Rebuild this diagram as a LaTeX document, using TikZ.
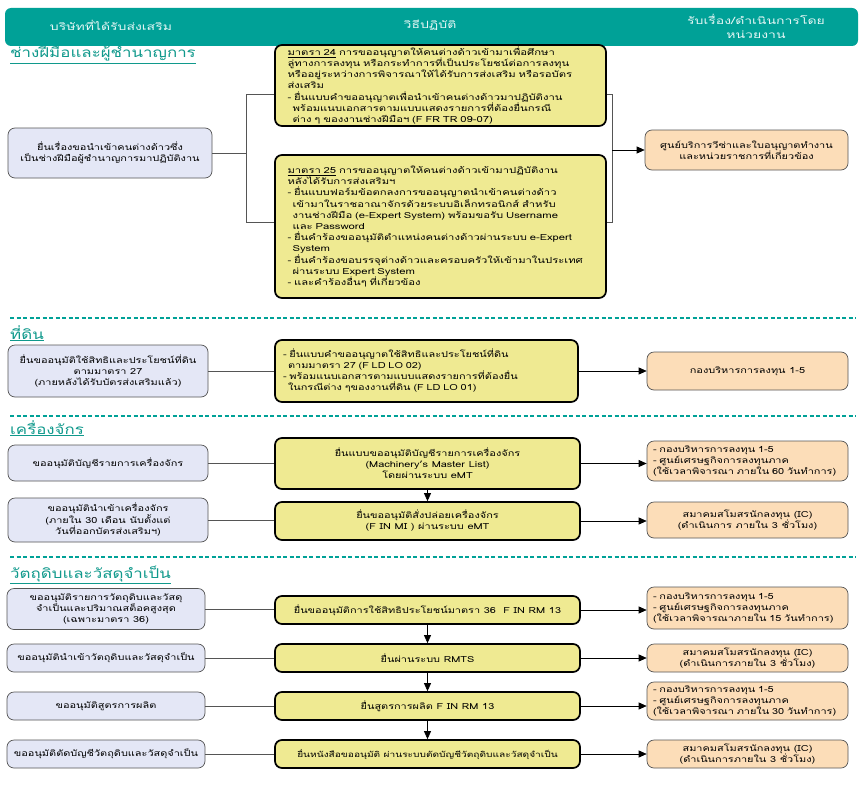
\documentclass[tikz,border=0pt]{standalone}
\usepackage{fontspec}
\setmainfont{Loma}[Script=Thai]
\newfontfamily\wide{Loma}[Script=Thai,FakeStretch=1.3]
\newfontfamily\wider{Loma}[Script=Thai,FakeStretch=1.34]
\newfontfamily\ttlfont{Loma}[Script=Thai,FakeStretch=1.25]
\newfontfamily\hdrfont{Loma}[Script=Thai,FakeStretch=1.4]
\usetikzlibrary{arrows.meta,calc}
\definecolor{hdr}{HTML}{00A197}
\definecolor{ttl}{HTML}{10998C}
\definecolor{lav}{HTML}{E4E7F6}
\definecolor{yel}{HTML}{EFEA92}
\definecolor{peach}{HTML}{FCDDB8}
\definecolor{edge}{HTML}{555555}
\begin{document}
\begin{tikzpicture}[x=1pt,y=-1pt,
  base/.style={rounded corners=7pt, font=\wide\fontsize{8.4}{11}\selectfont, inner xsep=6pt, inner ysep=1pt},
  lbox/.style={base, draw=edge, fill=lav, align=center, line width=0.7pt},
  ybox/.style={base, draw=black, fill=yel, line width=1.7pt},
  ybig/.style={ybox, font=\wider\fontsize{8.4}{11.2}\selectfont, inner xsep=0pt, text width=306pt, align=left},
  obox/.style={base, draw=edge, fill=peach, line width=0.7pt},
  conn/.style={draw=edge, line width=0.7pt},
  arr/.style={draw=black, line width=0.7pt, -{Triangle[length=8pt,width=7pt]}},
  sect/.style={anchor=base west, text=ttl, font=\ttlfont\fontsize{13.5}{16}\selectfont, inner sep=0pt},
  dline/.style={draw=hdr, line width=1.1pt, dash pattern=on 4pt off 2.5pt},
  htext/.style={text=white!90!hdr, font=\hdrfont\fontsize{10}{14}\selectfont, align=center}
]
\useasboundingbox (0,0) rectangle (864,784);
\fill[white] (0,0) rectangle (864,784);
% header
\fill[hdr, rounded corners=6pt] (5,8) rectangle (858,46);
\node[htext] (h1) at (111,25) {บริษัทที่ได้รับส่งเสริม};
\node[htext] (h2) at (430,25) {วิธีปฏิบัติ};
\node[htext] (h3) at (756,26) {รับเรื่อง/ดำเนินการโดย\\หน่วยงาน};

% section titles
\node[sect] (s1) at (10,58) {\underline{ช่างฝีมือและผู้ชำนาญการ}};
\node[sect] (s2) at (10,339) {\underline{ที่ดิน}};
\node[sect] (s3) at (10,434) {\underline{เครื่องจักร}};
\node[sect] (s4) at (10,578) {\underline{วัตถุดิบและวัสดุจำเป็น}};

% dashed separators
\coordinate (d1a) at (10,318); \coordinate (d1b) at (856,318);
\coordinate (d2a) at (10,416); \coordinate (d2b) at (856,416);
\coordinate (d3a) at (10,557); \coordinate (d3b) at (856,557);
\draw[dline] (d1a) -- (d1b);
\draw[dline] (d2a) -- (d2b);
\draw[dline] (d3a) -- (d3b);

% ===== Section 1 =====
\node[lbox, minimum width=204pt, minimum height=50pt] (L1) at (110,153)
 {ยื่นเรื่องขอนำเข้าคนต่างด้าวซึ่ง\\เป็นช่างฝีมือผู้ชำนาญการมาปฏิบัติงาน};
\node[ybig, minimum width=331pt, minimum height=81pt] (Y1a) at (440.5,85.5)
 {\underline{มาตรา 24} การขออนุญาตให้คนต่างด้าวเข้ามาเพื่อศึกษา\\
 ลู่ทางการลงทุน หรือกระทำการที่เป็นประโยชน์ต่อการลงทุน\\
 หรืออยู่ระหว่างการพิจารณาให้ได้รับการส่งเสริม หรือรอบัตร\\
 ส่งเสริม\\
 - ยื่นแบบคำขออนุญาตเพื่อนำเข้าคนต่างด้าวมาปฏิบัติงาน\\
 \hspace*{0.6em}พร้อมแนบเอกสารตามแบบแสดงรายการที่ต้องยื่นกรณี\\
 \hspace*{0.6em}ต่าง ๆ ของงานช่างฝีมือฯ (F FR TR 09-07)};
\node[ybig, minimum width=331pt, minimum height=143pt] (Y1b) at (440.5,226.5)
 {\underline{มาตรา 25} การขออนุญาตให้คนต่างด้าวเข้ามาปฏิบัติงาน\\
 หลังได้รับการส่งเสริมฯ\\
 - ยื่นแบบฟอร์มข้อตกลงการขออนุญาตนำเข้าคนต่างด้าว\\
 \hspace*{0.6em}เข้ามาในราชอาณาจักรด้วยระบบอิเล็กทรอนิกส์ สำหรับ\\
 \hspace*{0.6em}งานช่างฝีมือ (e-Expert System) พร้อมขอรับ Username\\
 \hspace*{0.6em}และ Password\\
 - ยื่นคำร้องขออนุมัติตำแหน่งคนต่างด้าวผ่านระบบ e-Expert\\
 \hspace*{0.6em}System\\
 - ยื่นคำร้องขอบรรจุต่างด้าวและครอบครัวให้เข้ามาในประเทศ\\
 \hspace*{0.6em}ผ่านระบบ Expert System\\
 - และคำร้องอื่นๆ ที่เกี่ยวข้อง};
\node[obox, minimum width=203pt, minimum height=40pt, align=center] (O1) at (746.5,150)
 {ศูนย์บริการวีซ่าและใบอนุญาตทำงาน\\และหน่วยราชการที่เกี่ยวข้อง};
\coordinate (j1) at (246,153);
\coordinate (j1t) at (246,94);
\coordinate (j1b) at (246,222);
\coordinate (k1t) at (612,94);
\coordinate (k1b) at (612,222);
\coordinate (k1m) at (612,150);
\draw[conn] (L1.east |- j1) -- (j1);
\draw[conn] (j1t -| Y1a.west) -- (j1t) -- (j1b) -- (j1b -| Y1b.west);
\draw[conn] (k1t -| Y1a.east) -- (k1t) -- (k1b) -- (k1b -| Y1b.east);
\draw[arr] (k1m) -- (O1.west);

% ===== Section 2 =====
\node[lbox, minimum width=200pt, minimum height=52pt] (L2) at (108,371)
 {ยื่นขออนุมัติใช้สิทธิและประโยชน์ที่ดิน\\ตามมาตรา 27\\(ภายหลังได้รับบัตรส่งเสริมแล้ว)};
\node[ybox, minimum width=303pt, minimum height=62pt, text width=287pt, align=left, inner xsep=8pt] (Y2) at (426.5,371)
 {- ยื่นแบบคำขออนุญาตใช้สิทธิและประโยชน์ที่ดิน\\
 \hspace*{0.6em}ตามมาตรา 27 (F LD LO 02)\\
 - พร้อมแนบเอกสารตามแบบแสดงรายการที่ต้องยื่น\\
 \hspace*{0.6em}ในกรณีต่าง ๆของงานที่ดิน (F LD LO 01)};
\node[obox, minimum width=201pt, minimum height=38pt, align=center] (O2) at (747.5,371)
 {กองบริหารการลงทุน 1-5};
\draw[conn] (L2.east) -- (L2.east -| Y2.west);
\draw[arr] (Y2.east) -- (Y2.east -| O2.west);

% ===== Section 3 =====
\node[lbox, minimum width=200pt, minimum height=36pt] (L3a) at (108,463)
 {ขออนุมัติบัญชีรายการเครื่องจักร};
\node[lbox, minimum width=200pt, minimum height=44pt] (L3b) at (108,520)
 {ขออนุมัตินำเข้าเครื่องจักร\\(ภายใน 30 เดือน นับตั้งแต่\\วันที่ออกบัตรส่งเสริมฯ)};
\node[ybox, minimum width=305pt, minimum height=51pt, align=center] (Y3a) at (427.5,463.5)
 {ยื่นแบบขออนุมัติบัญชีรายการเครื่องจักร\\(Machinery’s Master List)\\โดยผ่านระบบ eMT};
\node[ybox, minimum width=305pt, minimum height=38pt, align=center] (Y3b) at (427.5,521)
 {ยื่นขออนุมัติสั่งปล่อยเครื่องจักร\\(F IN MI ) ผ่านระบบ eMT};
\node[obox, minimum width=201pt, minimum height=40pt, text width=189pt, align=left] (O3a) at (747.5,461)
 {- กองบริหารการลงทุน 1-5\\- ศูนย์เศรษฐกิจการลงทุนภาค\\(ใช้เวลาพิจารณา ภายใน 60 วันทำการ)};
\node[obox, minimum width=201pt, minimum height=36pt, align=center] (O3b) at (747.5,520)
 {สมาคมสโมสรนักลงทุน (IC)\\(ดำเนินการ ภายใน 3 ชั่วโมง)};
\draw[conn] (L3a.east) -- (L3a.east -| Y3a.west);
\draw[conn] (L3b.east) -- (L3b.east -| Y3b.west);
\draw[arr] (Y3a.south) -- (Y3b.north);
\draw[arr] (Y3a.east) -- (Y3a.east -| O3a.west);
\draw[arr] (Y3b.east) -- (Y3b.east -| O3b.west);

% ===== Section 4 =====
\node[lbox, minimum width=198pt, minimum height=41pt] (L4a) at (106,609)
 {ขออนุมัติรายการวัตถุดิบและวัสดุ\\จำเป็นและปริมาณสต็อคสูงสุด\\(เฉพาะมาตรา 36)};
\node[lbox, minimum width=198pt, minimum height=28pt] (L4b) at (106,658)
 {ขออนุมัตินำเข้าวัตถุดิบและวัสดุจำเป็น};
\node[lbox, minimum width=198pt, minimum height=28pt] (L4c) at (106,706)
 {ขออนุมัติสูตรการผลิต};
\node[lbox, minimum width=198pt, minimum height=28pt] (L4d) at (106,754)
 {ขออนุมัติตัดบัญชีวัตถุดิบและวัสดุจำเป็น};
\node[ybox, minimum width=305pt, minimum height=28pt, align=center] (Y4a) at (427.5,610)
 {ยื่นขออนุมัติการใช้สิทธิประโยชน์มาตรา 36\ \ F IN RM 13};
\node[ybox, minimum width=305pt, minimum height=28pt, align=center] (Y4b) at (427.5,658)
 {ยื่นผ่านระบบ RMTS};
\node[ybox, minimum width=305pt, minimum height=28pt, align=center] (Y4c) at (427.5,706)
 {ยื่นสูตรการผลิต F IN RM 13};
\node[ybox, minimum width=305pt, minimum height=28pt, align=center, inner xsep=3pt] (Y4d) at (427.5,754)
 {\fontsize{7.8}{11}\selectfont ยื่นหนังสือขออนุมัติ ผ่านระบบตัดบัญชีวัตถุดิบและวัสดุจำเป็น};
\node[obox, minimum width=201pt, minimum height=42pt, text width=189pt, align=left] (O4a) at (747.5,608)
 {- กองบริหารการลงทุน 1-5\\- ศูนย์เศรษฐกิจการลงทุนภาค\\(ใช้เวลาพิจารณาภายใน 15 วันทำการ)};
\node[obox, minimum width=201pt, minimum height=28pt, align=center] (O4b) at (747.5,658)
 {สมาคมสโมสรนักลงทุน (IC)\\(ดำเนินการภายใน 3 ชั่วโมง)};
\node[obox, minimum width=201pt, minimum height=38pt, text width=189pt, align=left] (O4c) at (747.5,701)
 {- กองบริหารการลงทุน 1-5\\- ศูนย์เศรษฐกิจการลงทุนภาค\\(ใช้เวลาพิจารณา ภายใน 30 วันทำการ)};
\node[obox, minimum width=201pt, minimum height=28pt, align=center] (O4d) at (747.5,754)
 {สมาคมสโมสรนักลงทุน (IC)\\(ดำเนินการภายใน 3 ชั่วโมง)};
\foreach \a in {a,b,c,d}{
  \draw[conn] (L4\a.east) -- (L4\a.east -| Y4\a.west);
  \draw[arr] (Y4\a.east) -- (Y4\a.east -| O4\a.west);
}
\draw[arr] (Y4a.south) -- (Y4b.north);
\draw[arr] (Y4b.south) -- (Y4c.north);
\draw[arr] (Y4c.south) -- (Y4d.north);
\end{tikzpicture}
\end{document}
